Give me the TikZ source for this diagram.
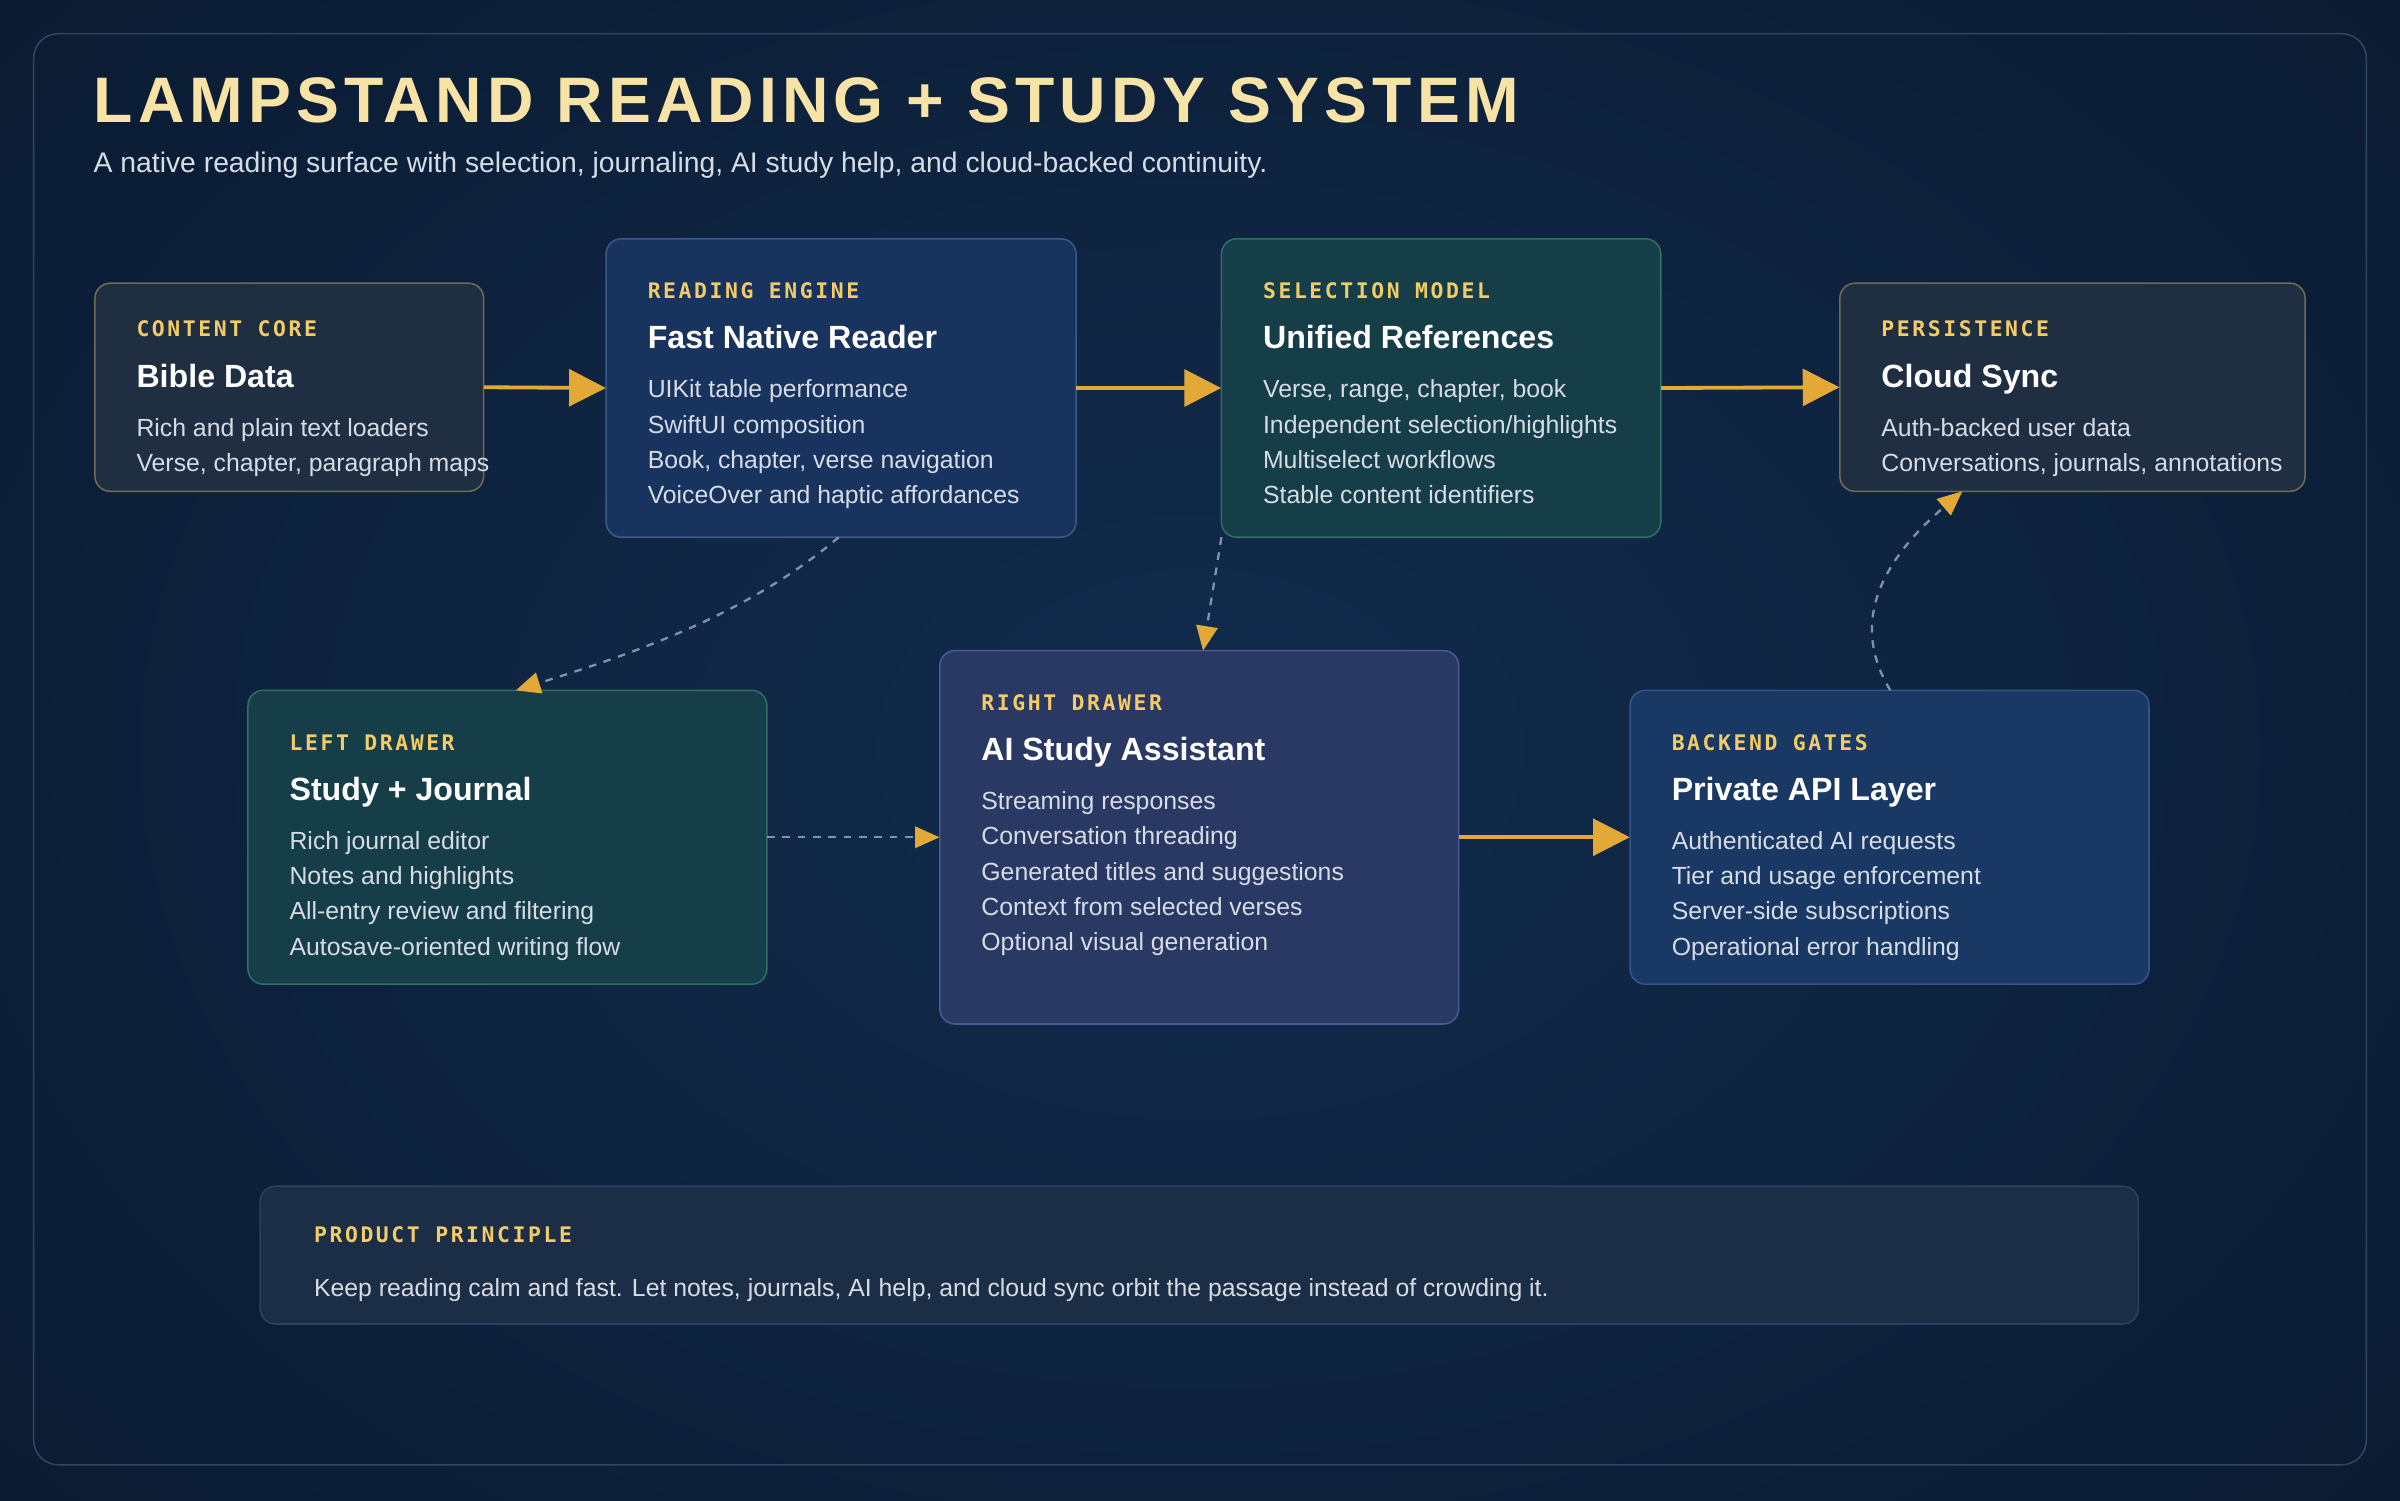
\documentclass[tikz,border=0pt]{standalone}
\usepackage{fontspec}
\setmainfont{Liberation Sans}
\newfontfamily\monof{DejaVu Sans Mono}[LetterSpace=12]
\newfontfamily\titlef{Liberation Sans}[LetterSpace=8]
\usetikzlibrary{arrows.meta,shadings}
\definecolor{gold}{HTML}{E3A937}
\definecolor{lab}{HTML}{F2CC66}
\definecolor{ttl}{HTML}{F8E3A6}
\definecolor{body}{HTML}{D6DCE6}
\definecolor{dash}{HTML}{7F93AE}
\definecolor{bgA}{HTML}{0A1A30}
\definecolor{bgB}{HTML}{122C4E}
\definecolor{frame}{HTML}{2E4664}
\definecolor{ccF}{HTML}{202E42}\definecolor{ccD}{HTML}{6E6C52}
\definecolor{reF}{HTML}{18345E}\definecolor{reD}{HTML}{3A5A8A}
\definecolor{smF}{HTML}{163E48}\definecolor{smD}{HTML}{306E66}
\definecolor{rdF}{HTML}{2A3864}\definecolor{rdD}{HTML}{4A5894}
\definecolor{beF}{HTML}{193864}\definecolor{beD}{HTML}{32568C}
\definecolor{ppF}{HTML}{1C2D46}\definecolor{ppD}{HTML}{2C4060}
\tikzset{
 card/.style={rounded corners=10pt, line width=1pt},
 cc/.style={card, fill=ccF, draw=ccD},
 re/.style={card, fill=reF, draw=reD},
 sm/.style={card, fill=smF, draw=smD},
 rd/.style={card, fill=rdF, draw=rdD},
 be/.style={card, fill=beF, draw=beD},
 pp/.style={card, fill=ppF, draw=ppD},
 lbl/.style={anchor=base west, inner sep=0, text=lab, font=\monof\bfseries\fontsize{14}{14}\selectfont},
 hd/.style={anchor=base west, inner sep=0, text=white, font=\bfseries\fontsize{21}{21}\selectfont},
 ln/.style={anchor=base west, inner sep=0, text=body, font=\fontsize{16.2}{16}\selectfont},
 solid arrow/.style={draw=gold, line width=2.5pt, -{Triangle[length=24pt,width=24pt]}},
 dash arrow/.style={draw=dash, line width=1.5pt, dash pattern=on 5pt off 5pt, -{Triangle[length=16pt,width=14pt,color=gold]}},
}
\newcommand\card[9]{%
 \pgfmathsetmacro\pad{(#6-#4)<150?35:39}%
 \path[#2] (#3,#4) rectangle (#5,#6);
 \node[inner sep=0, minimum width={(#5-#3)*1pt}, minimum height={(#6-#4)*1pt}] (#1) at ({(#3+#5)/2},{(#4+#6)/2}) {};
 \node[lbl] (#1-l) at ({#3+27},{#4+\pad}) {#7};
 \node[hd] (#1-t) at ({#3+27},{#4+\pad+33}) {#8};
 \foreach \t [count=\i] in {#9} \node[ln] (#1-\i) at ({#3+27},{#4+\pad+42+23*\i}) {\t};
}
\begin{document}
\begin{tikzpicture}[x=1pt,y=-1pt]
\useasboundingbox (0,0) rectangle (1568,980);
\begin{scope}
\clip (0,0) rectangle (1568,980);
\shade[inner color=bgB, outer color=bgA] (-300,-300) rectangle (1868,1280);
\end{scope}
\draw[rounded corners=16pt, draw=frame, line width=1pt] (22,22) rectangle (1546,957);
\node[anchor=base west, inner sep=0, text=ttl, font=\titlef\bfseries\fontsize{42}{42}\selectfont] (title) at (61,80) {LAMPSTAND READING + STUDY SYSTEM};
\node[anchor=base west, inner sep=0, text=body, font=\fontsize{18.5}{18}\selectfont] (sub) at (61,113) {A native reading surface with selection, journaling, AI study help, and cloud-backed continuity.};

\card{core}{cc}{62}{185}{316}{321}{CONTENT CORE}{Bible Data}{Rich and plain text loaders,{Verse, chapter, paragraph maps}}
\card{read}{re}{396}{156}{703}{351}{READING ENGINE}{Fast Native Reader}{UIKit table performance,SwiftUI composition,{Book, chapter, verse navigation},VoiceOver and haptic affordances}
\card{sel}{sm}{798}{156}{1085}{351}{SELECTION MODEL}{Unified References}{{Verse, range, chapter, book},Independent selection/highlights,Multiselect workflows,Stable content identifiers}
\card{pers}{cc}{1202}{185}{1506}{321}{PERSISTENCE}{Cloud Sync}{Auth-backed user data,{Conversations, journals, annotations}}
\card{left}{sm}{162}{451}{501}{643}{LEFT DRAWER}{Study + Journal}{Rich journal editor,Notes and highlights,All-entry review and filtering,Autosave-oriented writing flow}
\card{right}{rd}{614}{425}{953}{669}{RIGHT DRAWER}{AI Study Assistant}{Streaming responses,Conversation threading,Generated titles and suggestions,Context from selected verses,Optional visual generation}
\card{back}{be}{1065}{451}{1404}{643}{BACKEND GATES}{Private API Layer}{Authenticated AI requests,Tier and usage enforcement,Server-side subscriptions,Operational error handling}

\path[pp] (170,775) rectangle (1397,865);
\node[inner sep=0, minimum width=1227pt, minimum height=90pt] (prin) at (783.5,820) {};
\node[lbl] (prin-l) at (205,812) {PRODUCT PRINCIPLE};
\node[ln] (prin-1) at (205,847) {Keep reading calm and fast. Let notes, journals, AI help, and cloud sync orbit the passage instead of crowding it.};

\draw[solid arrow] (core.east) -- (read.west);
\draw[solid arrow] (read.east) -- (sel.west);
\draw[solid arrow] (sel.east) -- (pers.west);
\draw[solid arrow] (right.east) -- (back.west);
\draw[dash arrow] (left.east) -- (right.west);
\coordinate (rb) at (548,351); \coordinate (lt) at (337,451);
\draw[dash arrow] (rb) .. controls (490,400) and (420,425) .. (lt);
\coordinate (sb) at (798,351); \coordinate (rt) at (786,425);
\draw[dash arrow] (sb) -- (rt);
\coordinate (bt) at (1235,451); \coordinate (pb) at (1282,321);
\draw[dash arrow] (bt) .. controls (1210,410) and (1225,370) .. (pb);
\end{tikzpicture}
\end{document}
